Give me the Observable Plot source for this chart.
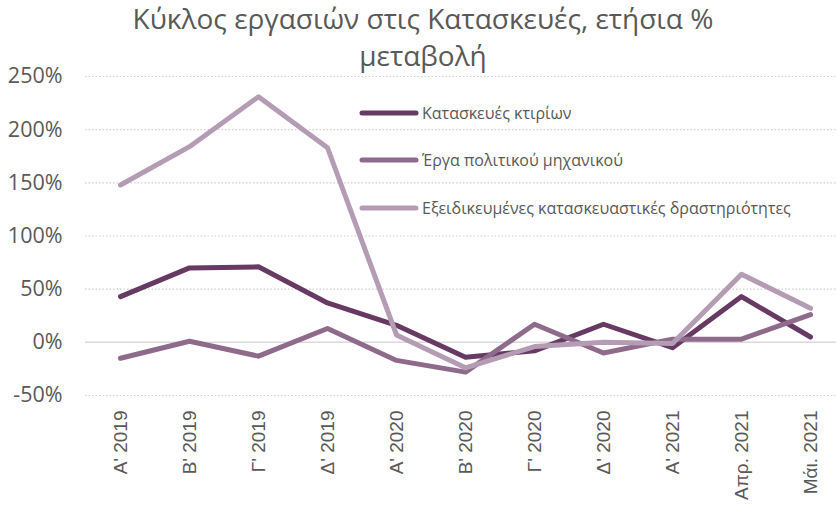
<!DOCTYPE html>
<html>
<head>
<meta charset="utf-8">
<script src="https://cdn.jsdelivr.net/npm/d3@7"></script>
<script src="https://cdn.jsdelivr.net/npm/@observablehq/plot@0.6"></script>
<style>
  body { margin: 0; background: #fff; }
  #wrap { position: relative; width: 836px; height: 511px; overflow: hidden; }
  #title { position: absolute; left: 0; top: 0px; width: 846px; text-align: center;
    font-family: "Open Sans", sans-serif; font-size: 28px; line-height: 37px; color: #595959; }
  .leg { position: absolute; left: 358px; display: flex; align-items: center;
    font-family: "Open Sans", sans-serif; font-size: 16px; color: #595959; white-space: nowrap; }
  .leg svg { margin-right: 2px; }
</style>
</head>
<body>
<div id="wrap">
  <div id="chart"></div>
  <div id="title">Κύκλος εργασιών στις Κατασκευές, ετήσια %<br>μεταβολή</div>
  <div id="legend"></div>
</div>
<script>
const categories = ["Α' 2019","Β' 2019","Γ' 2019","Δ' 2019","Α' 2020","Β' 2020","Γ' 2020","Δ' 2020","Α' 2021","Απρ. 2021","Μάι. 2021"];
const seriesNames = ["Κατασκευές κτιρίων","Έργα πολιτικού μηχανικού","Εξειδικευμένες κατασκευαστικές δραστηριότητες"];
const buildings = [43, 70, 71, 37, 16, -14, -8, 17, -5, 43, 5];
const civil = [-15, 1, -13, 13, -17, -28, 17, -10, 3, 3, 26];
const specialised = [148, 184, 231, 183, 7, -24, -4, 0, -1, 64, 32];
const colors = ["#673a63", "#8e6a8b", "#b49db4"];
const yTicks = [-50, 0, 50, 100, 150, 200, 250];

const seriesValues = [buildings, civil, specialised];
const data = seriesValues.flatMap((vals, s) => vals.map((v, i) => ({cat: categories[i], value: v, series: seriesNames[s]})));

const chart = Plot.plot({
  width: 836,
  height: 511,
  marginLeft: 85,
  marginRight: 0,
  marginTop: 76,
  marginBottom: 116,
  style: {fontFamily: "Open Sans, sans-serif", background: "#fff"},
  x: {type: "point", domain: categories, range: [119, 810], padding: 0},
  y: {domain: [-50, 250]},
  color: {domain: seriesNames, range: colors},
  marks: [
    Plot.ruleY(yTicks.filter(d => d !== 0), {stroke: "#d0d0d0", strokeWidth: 1.2, strokeDasharray: "1.5,2"}),
    Plot.ruleY([0], {stroke: "#d9d9d9", strokeWidth: 1.5}),
    Plot.axisY({ticks: yTicks, tickSize: 0, tickPadding: 23, tickFormat: d => d + "%", fontSize: 21.5, fill: "#595959", label: null, fontFamily: "Open Sans, sans-serif"}),
    Plot.axisX({tickSize: 0, tickRotate: -90, tickPadding: 15, fontSize: 19, fill: "#595959", label: null, fontFamily: "Liberation Sans, Arial, sans-serif"}),
    Plot.line(data, {x: "cat", y: "value", z: "series", stroke: "series", strokeWidth: 5, strokeLinecap: "round", strokeLinejoin: "round"})
  ]
});
document.getElementById("chart").appendChild(chart);

const legendTops = [113, 160, 207.5];
const legend = document.getElementById("legend");
seriesNames.forEach((name, i) => {
  const div = document.createElement("div");
  div.className = "leg";
  div.style.top = (legendTops[i] - 12) + "px";
  div.style.height = "24px";
  div.innerHTML = `<svg width="62" height="10"><line x1="4" y1="5" x2="58" y2="5" stroke="${colors[i]}" stroke-width="5" stroke-linecap="round"/></svg><span>${name}</span>`;
  legend.appendChild(div);
});
</script>
</body>
</html>
